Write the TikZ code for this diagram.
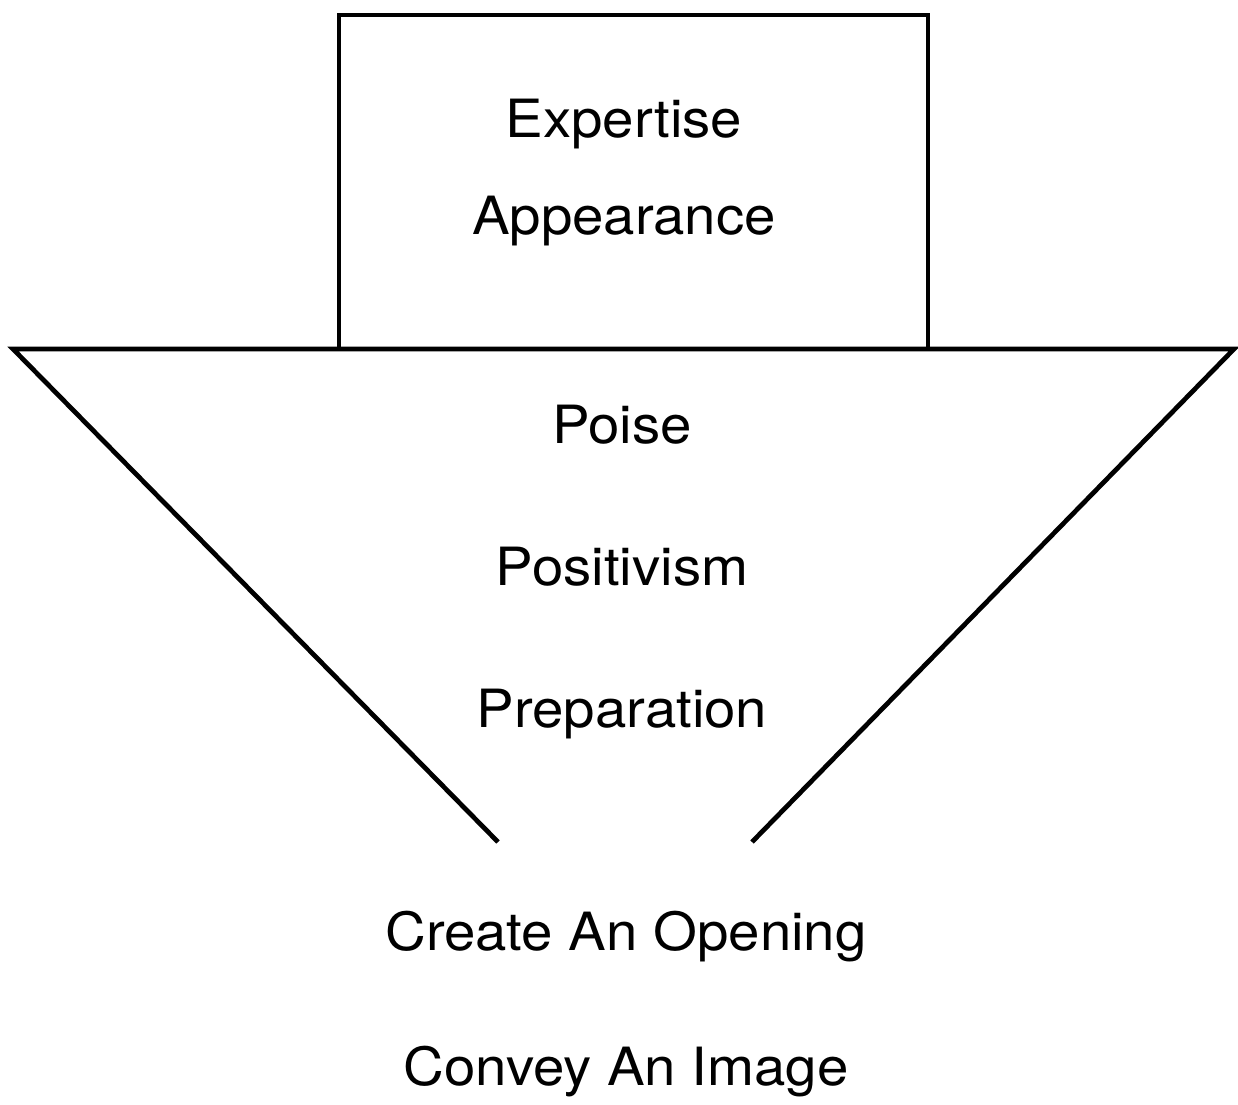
\documentclass[tikz,border=0pt]{standalone}
\usepackage{fontspec}
\setmainfont{TeX Gyre Heros}[FakeStretch=1.07]
\usepackage{tikz}

\begin{document}
\begin{tikzpicture}[
    x=0.02cm, y=-0.02cm,
    line width=2.7pt,
    label_text/.style={anchor=base, inner sep=0pt, font=\fontsize{30}{36}\selectfont},
    outline/.style={draw, line join=miter}
]
    \useasboundingbox (0,0) rectangle (1238,1105);
    % box on top
    \coordinate (BL) at (339,349);
    \coordinate (TL) at (339,15);
    \coordinate (TR) at (928,15);
    \coordinate (BR) at (928,349);
    % funnel
    \coordinate (FL) at (13,349);
    \coordinate (FR) at (1234,349);
    \coordinate (OL) at (498,842);
    \coordinate (OR) at (752,842);
    \node[label_text] (E) at (624,137) {Expertise};
    \node[label_text] (A) at (624,235) {Appearance};
    \node[label_text] (P1) at (622,443) {Poise};
    \node[label_text] (P2) at (622,585) {Positivism};
    \node[label_text] (P3) at (622,727) {Preparation};
    \node[label_text] (C1) at (626,950) {Create An Opening};
    \node[label_text] (C2) at (626,1085) {Convey An Image};
    \draw [outline] (BL) -- (TL) -- (TR) -- (BR);
    \draw [outline] (OL) -- (FL) -- (FR) -- (OR);
\end{tikzpicture}
\end{document}
